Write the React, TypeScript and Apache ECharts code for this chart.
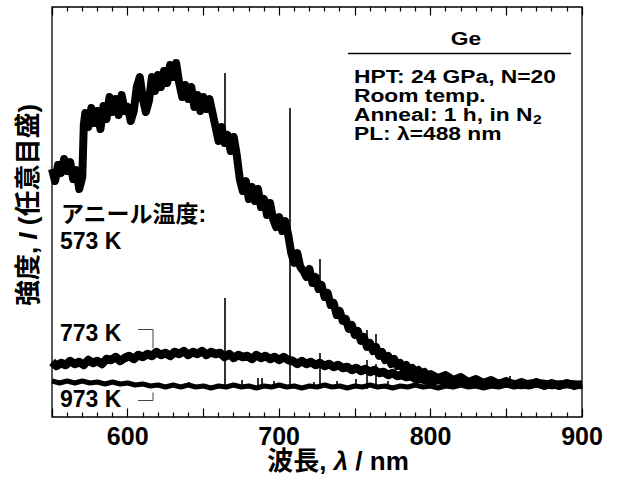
import React, { useEffect, useRef } from "react";
import * as echarts from "echarts";

const FONT = "'Liberation Sans', Arial, 'Noto Sans CJK JP', sans-serif";

// PL spectra of HPT-processed Ge after annealing: [wavelength (nm), intensity (a.u.)]
const pl573K: number[][] = [
  [550, 248], [552, 236], [554, 252], [556, 244], [558, 258], [560, 246], [562, 255], [564, 238],
  [566, 247], [568, 228], [570, 240], [571, 292], [572, 304], [574, 290], [576, 309], [578, 294],
  [580, 306], [582, 288], [584, 311], [586, 298], [588, 320], [590, 305], [592, 318], [594, 302],
  [596, 322], [598, 306], [600, 310], [602, 296], [604, 306], [606, 330], [608, 340], [610, 318],
  [612, 305], [614, 316], [616, 340], [618, 326], [620, 342], [622, 330], [624, 346], [626, 334],
  [628, 352], [630, 340], [632, 354], [634, 334], [636, 320], [638, 332], [640, 318], [642, 330],
  [644, 310], [646, 322], [648, 306], [650, 320], [652, 308], [654, 318], [656, 304], [658, 290],
  [660, 276], [662, 290], [664, 274], [666, 282], [668, 266], [670, 280], [672, 262], [674, 238],
  [676, 226], [678, 236], [680, 218], [682, 230], [684, 216], [686, 228], [688, 210], [690, 218],
  [692, 202], [694, 214], [696, 198], [698, 190], [700, 200], [702, 186], [704, 196], [706, 182],
  [708, 164], [710, 154], [712, 164], [714, 150], [716, 146], [718, 140], [720, 148], [722, 134],
  [724, 140], [726, 128], [728, 132], [730, 120], [732, 124], [734, 112], [736, 114], [738, 102],
  [740, 106], [742, 96], [744, 98], [746, 88], [748, 92], [750, 82], [752, 86], [754, 76],
  [756, 80], [758, 70], [760, 74], [762, 66], [764, 70], [766, 61], [768, 65], [770, 57],
  [772, 61], [774, 53], [776, 58], [778, 51], [780, 54], [782, 48], [784, 52], [786, 46],
  [788, 49], [790, 44], [792, 47], [794, 42], [796, 45], [798, 40], [800, 43], [805, 39],
  [810, 42], [815, 37], [820, 40], [825, 35], [830, 38], [835, 34], [840, 37], [845, 33],
  [850, 36], [855, 32], [860, 35], [865, 32], [870, 35], [875, 31], [880, 34], [885, 31],
  [890, 34], [895, 31], [900, 33],
];

const pl773K: number[][] = [
  [550, 55], [553, 51], [556, 54], [559, 52], [562, 56], [565, 53], [568, 55], [571, 52],
  [574, 57], [577, 54], [580, 56], [583, 53], [586, 58], [589, 57], [592, 60], [595, 56],
  [598, 59], [601, 61], [604, 58], [607, 62], [610, 60], [613, 63], [616, 61], [619, 65],
  [622, 62], [625, 64], [628, 61], [631, 65], [634, 63], [637, 66], [640, 62], [643, 65],
  [646, 63], [649, 66], [652, 62], [655, 65], [658, 63], [661, 64], [664, 60], [667, 63],
  [670, 59], [673, 62], [676, 60], [679, 61], [682, 58], [685, 62], [688, 59], [691, 61],
  [694, 58], [697, 60], [700, 57], [703, 60], [706, 57], [709, 56], [712, 53], [715, 56],
  [718, 53], [721, 55], [724, 52], [727, 54], [730, 51], [733, 53], [736, 50], [739, 52],
  [742, 49], [745, 50], [748, 47], [751, 49], [754, 46], [757, 48], [760, 45], [763, 47],
  [766, 44], [769, 45], [772, 42], [775, 44], [778, 41], [781, 42], [784, 40], [787, 41],
  [790, 38], [793, 39], [796, 37], [799, 38], [802, 36], [805, 37], [810, 35], [815, 36],
  [820, 34], [830, 35], [840, 33], [850, 34], [860, 32], [870, 34], [880, 32], [890, 33],
  [900, 32],
];

const pl973K: number[][] = [
  [550, 36], [555, 34], [560, 36], [565, 34], [570, 36], [575, 34], [580, 35], [585, 33],
  [590, 35], [595, 33], [600, 34], [605, 32], [610, 33], [615, 31], [620, 32], [625, 30],
  [630, 32], [635, 30], [640, 32], [645, 30], [650, 31], [655, 29], [660, 31], [665, 30],
  [670, 32], [675, 30], [680, 31], [685, 29], [690, 31], [695, 30], [700, 32], [705, 30],
  [710, 31], [715, 29], [720, 31], [725, 30], [730, 32], [735, 30], [740, 31], [745, 29],
  [750, 31], [755, 30], [760, 32], [765, 30], [770, 31], [775, 29], [780, 31], [785, 30],
  [790, 32], [795, 30], [800, 31], [805, 29], [810, 31], [815, 30], [820, 32], [825, 30],
  [830, 31], [835, 29], [840, 31], [845, 30], [850, 32], [855, 30], [860, 31], [865, 30],
  [870, 32], [875, 30], [880, 31], [885, 30], [890, 32], [895, 30], [900, 31],
];

// Narrow emission / stray-light lines on top of the spectra
const spikeNm = [664, 664, 707, 727, 727, 758, 758, 763.5, 763.5, 852, 640, 675, 686, 688.5, 696.5, 723, 738, 750.5, 771.5, 686];
const spikeLow = [280, 28, 28, 130, 28, 70, 28, 67, 28, 30, 30, 30, 30, 30, 30, 30, 30, 30, 30, 58];
const spikeHigh = [344, 119, 309, 158, 64, 87, 57, 83, 53, 41, 35, 37, 39, 39, 36, 35, 36, 38, 36, 65];

const xTickLabels = [600, 700, 800, 900];

const infoTitle = "Ge";
const infoLines = ["HPT: 24 GPa, N=20", "Room temp.", "Anneal: 1 h, in N", "PL: λ=488 nm"];
const curveLabels = ["アニール温度:", "573 K", "773 K", "973 K"];

function measure(text: string, font: string): number {
  const ctx = document.createElement("canvas").getContext("2d");
  if (!ctx) return 0;
  ctx.font = font;
  return ctx.measureText(text).width;
}

export default function App() {
  const ref = useRef<HTMLDivElement>(null);

  useEffect(() => {
    if (!ref.current) return;
    const chart = echarts.init(ref.current, undefined, { renderer: "svg" });

    const infoFont = `bold 19px ${FONT}`;
    const infoScaleX = 1.2;
    const infoTop = 76;
    const infoPitch = 19;
    const labelFont = `bold 23px ${FONT}`;
    const annealWidth = measure(infoLines[2], infoFont) * infoScaleX;

    const tickStyle = { color: "#000", width: 1.2 };
    const baseX = {
      type: "value" as const,
      min: 550,
      max: 900,
      interval: 50,
      axisLine: { show: false },
      splitLine: { show: false },
      axisTick: { show: true, inside: true, length: 8.5, lineStyle: tickStyle },
      minorTick: { show: true, splitNumber: 5, length: 4.5, lineStyle: tickStyle },
    };

    const lineSeries = (data: number[][], width: number) => ({
      type: "line" as const,
      data,
      showSymbol: false,
      symbol: "none",
      silent: true,
      lineStyle: { color: "#000", width, join: "round" as const },
    });

    const plainText = (text: string, x: number, y: number, font: string, align = "left") => ({
      type: "text",
      x,
      y,
      style: { text, font, fill: "#000", textAlign: align, textVerticalAlign: "middle" },
    });

    chart.setOption({
      animation: false,
      backgroundColor: "#fff",
      grid: {
        left: 52,
        right: 35,
        top: 7,
        bottom: 64,
        show: true,
        borderColor: "#000",
        borderWidth: 1.3,
        backgroundColor: "transparent",
      },
      xAxis: [
        {
          ...baseX,
          position: "bottom",
          axisLabel: {
            formatter: (v: number) => (xTickLabels.includes(v) ? String(v) : ""),
            fontSize: 25,
            fontWeight: "bold",
            color: "#000",
            fontFamily: FONT,
            margin: 6,
          },
        },
        { ...baseX, position: "top", axisLabel: { show: false } },
      ],
      yAxis: {
        type: "value",
        min: 0,
        max: 410,
        axisLine: { show: false },
        axisTick: { show: false },
        axisLabel: { show: false },
        splitLine: { show: false },
      },
      series: [
        lineSeries(pl573K, 8),
        lineSeries(pl773K, 8.5),
        {
          ...lineSeries(pl973K, 5),
          markLine: {
            silent: true,
            symbol: ["none", "none"],
            label: { show: false },
            lineStyle: { color: "#000", width: 1.6, type: "solid" },
            data: spikeNm.map((x, i) => [
              { coord: [x, spikeLow[i]] },
              { coord: [x, spikeHigh[i]] },
            ]),
          },
        },
      ],
      graphic: [
        // axis titles
        {
          type: "text",
          x: 28,
          y: 205,
          rotation: Math.PI / 2,
          style: {
            text: "{a|強度, }{i|I}{a| (任意目盛)}",
            textAlign: "center",
            textVerticalAlign: "middle",
            rich: {
              a: { font: `bold 26px ${FONT}`, fill: "#000" },
              i: { font: `italic bold 26px ${FONT}`, fill: "#000" },
            },
          },
        },
        {
          type: "text",
          x: 338,
          y: 461,
          style: {
            text: "{a|波長, }{i|λ}{a| / nm}",
            textAlign: "center",
            textVerticalAlign: "middle",
            rich: {
              a: { font: `bold 26px ${FONT}`, fill: "#000" },
              i: { font: `italic bold 26px ${FONT}`, fill: "#000" },
            },
          },
        },
        // sample information block
        { ...plainText(infoTitle, 466, 38, infoFont, "center"), scaleX: infoScaleX },
        {
          type: "line",
          shape: { x1: 348, y1: 53.5, x2: 571, y2: 53.5 },
          style: { stroke: "#000", lineWidth: 1.3 },
        },
        ...infoLines.map((t, i) => ({
          ...plainText(t, 354, infoTop + i * infoPitch, infoFont),
          scaleX: infoScaleX,
        })),
        {
          ...plainText("2", 354 + annealWidth + 0.5, infoTop + 2 * infoPitch + 5, `bold 13px ${FONT}`),
          scaleX: infoScaleX,
        },
        // curve labels
        plainText(curveLabels[0], 61, 214, labelFont),
        plainText(curveLabels[1], 60, 241, labelFont),
        plainText(curveLabels[2], 60, 332.5, labelFont),
        plainText(curveLabels[3], 60, 398.5, labelFont),
        // leader brackets
        {
          type: "polyline",
          shape: { points: [[138, 329.5], [153, 329.5], [153, 348]] },
          style: { stroke: "#444", lineWidth: 1, fill: "none" },
        },
        {
          type: "polyline",
          shape: { points: [[153, 392.5], [153, 400.5], [138, 400.5]] },
          style: { stroke: "#444", lineWidth: 1, fill: "none" },
        },
      ],
    });

    return () => chart.dispose();
  }, []);

  return (
    <div
      ref={ref}
      style={{ position: "fixed", left: 0, top: 0, width: 617, height: 481, background: "#fff" }}
    />
  );
}
